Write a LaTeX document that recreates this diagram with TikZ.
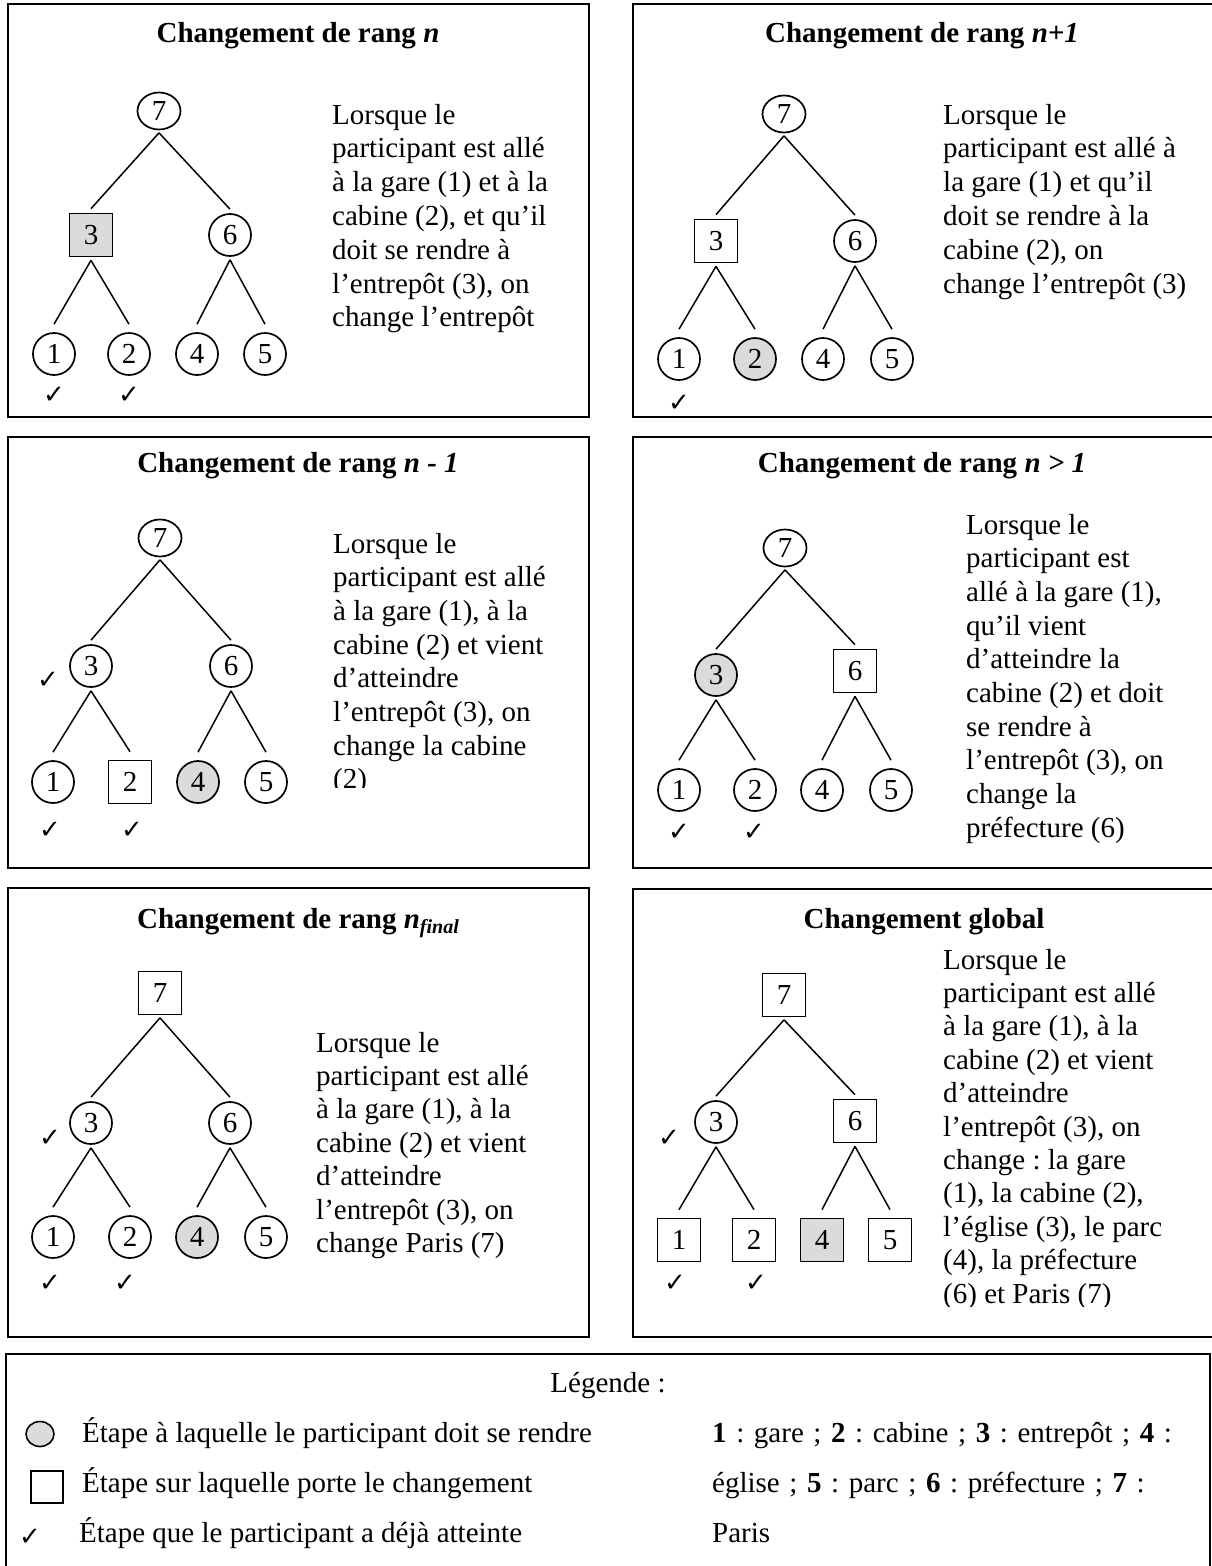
\documentclass[tikz,border=0pt]{standalone}
\usepackage{fontspec}
\setmainfont{Liberation Serif}
\newfontfamily\dejavu{DejaVu Sans}
\usetikzlibrary{shapes.geometric}
\frenchspacing
\newcommand\fs{\fontsize{29}{33.5}\selectfont}
\newcommand\chkfont{\dejavu\fontsize{26}{26}\selectfont}
\newcommand\tlines[5]{%
  \foreach \l [count=\i] in {#5}{\node[txt] (#4\i) at (#1,{#2+(\i-1)*#3}) {\l};}}
\newcommand\treelinks[1]{%
  \draw[link] ([yshift=-2.5pt]#17.south) -- ([yshift=4pt]#13.north);
  \draw[link] ([yshift=-2.5pt]#17.south) -- ([yshift=4pt]#16.north);
  \draw[link] ([yshift=-3pt]#13.south) -- ([yshift=8pt]#11.north);
  \draw[link] ([yshift=-3pt]#13.south) -- ([yshift=8pt]#12.north);
  \draw[link] ([yshift=-3pt]#16.south) -- ([yshift=8pt]#14.north);
  \draw[link] ([yshift=-3pt]#16.south) -- ([yshift=8pt]#15.north);}
\begin{document}
\begin{tikzpicture}[x=1pt,y=-1pt,
  cnode/.style={circle,draw,line width=1.7pt,minimum size=42pt,inner sep=0pt,font=\fs},
  rnode/.style={ellipse,draw,line width=1.7pt,minimum width=43pt,minimum height=37pt,inner sep=0pt,font=\fs},
  snode/.style={rectangle,draw,line width=1.7pt,minimum width=43pt,minimum height=43pt,inner sep=0pt,font=\fs},
  grayfill/.style={fill=gray!28},
  link/.style={line width=1.5pt},
  pbox/.style={draw,line width=1.8pt},
  txt/.style={anchor=base west,inner sep=0pt,font=\fs},
  ttl/.style={anchor=base,inner sep=0pt,font=\fs\bfseries},
  chk/.style={inner sep=0pt,font=\chkfont}]
\useasboundingbox (0,0) rectangle (1212,1566);
\fill[white] (0,0) rectangle (1212,1566);

% ---------- Panel A : rang n ----------
\draw[pbox] (8,4) rectangle (589,417);
\node[ttl] (ta) at (298,42) {Changement de rang \textit{n}};
\node[rnode] (a7) at (159,111) {7};
\node[snode,grayfill] (a3) at (91,235) {3};
\node[cnode] (a6) at (230,235) {6};
\node[cnode] (a1) at (54,354) {1};
\node[cnode] (a2) at (129,354) {2};
\node[cnode] (a4) at (197,354) {4};
\node[cnode] (a5) at (265,354) {5};
\treelinks{a}
\node[chk] (ac1) at (54,395) {✓};
\node[chk] (ac2) at (129,395) {✓};
\tlines{332}{124}{33.8}{al}{Lorsque le, participant est allé, {à la gare (1) et à la}, {cabine (2), et qu’il}, doit se rendre à, {l’entrepôt (3), on}, change l’entrepôt}

% ---------- Panel B : rang n+1 ----------
\draw[pbox] (633,4) rectangle (1215,417);
\node[ttl] (tb) at (922,42) {Changement de rang \textit{n+1}};
\node[rnode] (b7) at (784,114) {7};
\node[snode] (b3) at (716,241) {3};
\node[cnode] (b6) at (855,241) {6};
\node[cnode] (b1) at (679,359) {1};
\node[cnode,grayfill] (b2) at (755,359) {2};
\node[cnode] (b4) at (823,359) {4};
\node[cnode] (b5) at (892,359) {5};
\treelinks{b}
\node[chk] (bc1) at (679,403) {✓};
\tlines{943}{124}{33.8}{bl}{Lorsque le, participant est allé à, la gare (1) et qu’il, doit se rendre à la, {cabine (2), on}, change l’entrepôt (3)}

% ---------- Panel C : rang n - 1 ----------
\draw[pbox] (8,437) rectangle (589,868);
\node[ttl] (tc) at (298,472) {Changement de rang \textit{n - 1}};
\node[rnode] (c7) at (160,538) {7};
\node[cnode] (c3) at (91,666) {3};
\node[cnode] (c6) at (231,666) {6};
\node[cnode] (c1) at (53,782) {1};
\node[snode] (c2) at (130,782) {2};
\node[cnode,grayfill] (c4) at (198,782) {4};
\node[cnode] (c5) at (266,782) {5};
\treelinks{c}
\node[chk] (cc3) at (48,680) {✓};
\node[chk] (cc1) at (50,830) {✓};
\node[chk] (cc2) at (132,830) {✓};
\begin{scope}
\clip (320,500) rectangle (585,787);
\tlines{333}{553}{33.7}{cl}{Lorsque le, participant est allé, {à la gare (1), à la}, cabine (2) et vient, d’atteindre, {l’entrepôt (3), on}, change la cabine, (2)}
\end{scope}

% ---------- Panel D : rang n > 1 ----------
\draw[pbox] (633,437) rectangle (1215,868);
\node[ttl] (td) at (922,472) {Changement de rang \textit{n > 1}};
\node[rnode] (d7) at (785,548) {7};
\node[cnode,grayfill] (d3) at (716,675) {3};
\node[snode] (d6) at (855,671) {6};
\node[cnode] (d1) at (679,790) {1};
\node[cnode] (d2) at (755,790) {2};
\node[cnode] (d4) at (822,790) {4};
\node[cnode] (d5) at (891,790) {5};
\treelinks{d}
\node[chk] (dc1) at (679,832) {✓};
\node[chk] (dc2) at (754,832) {✓};
\tlines{966}{534}{33.7}{dl}{Lorsque le, participant est, {allé à la gare (1),}, qu’il vient, d’atteindre la, cabine (2) et doit, se rendre à, {l’entrepôt (3), on}, change la, préfecture (6)}

% ---------- Panel E : rang n final ----------
\draw[pbox] (8,888) rectangle (589,1337);
\node[ttl] (te) at (298,928) {Changement de rang \textit{n}\raisebox{-5pt}{\fontsize{20}{20}\selectfont\textit{final}}};
\node[snode] (e7) at (160,993) {7};
\node[cnode] (e3) at (91,1123) {3};
\node[cnode] (e6) at (230,1123) {6};
\node[cnode] (e1) at (53,1237) {1};
\node[cnode] (e2) at (130,1237) {2};
\node[cnode,grayfill] (e4) at (197,1237) {4};
\node[cnode] (e5) at (266,1237) {5};
\treelinks{e}
\node[chk] (ec3) at (50,1138) {✓};
\node[chk] (ec1) at (50,1283) {✓};
\node[chk] (ec2) at (125,1283) {✓};
\tlines{316}{1052}{33.4}{el}{Lorsque le, participant est allé, {à la gare (1), à la}, cabine (2) et vient, d’atteindre, {l’entrepôt (3), on}, change Paris (7)}

% ---------- Panel F : global ----------
\draw[pbox] (633,889) rectangle (1215,1337);
\node[ttl] (tf) at (924,928) {Changement global};
\node[snode] (f7) at (784,995) {7};
\node[cnode] (f3) at (716,1122) {3};
\node[snode] (f6) at (855,1121) {6};
\node[snode] (f1) at (679,1240) {1};
\node[snode] (f2) at (754,1240) {2};
\node[snode,grayfill] (f4) at (822,1240) {4};
\node[snode] (f5) at (890,1240) {5};
\treelinks{f}
\node[chk] (fc3) at (669,1138) {✓};
\node[chk] (fc1) at (675,1283) {✓};
\node[chk] (fc2) at (756,1283) {✓};
\begin{scope}
\clip (930,930) rectangle (1210,1306);
\tlines{943}{969}{33.4}{fl}{Lorsque le, participant est allé, {à la gare (1), à la}, cabine (2) et vient, d’atteindre, {l’entrepôt (3), on}, change : la gare, {(1), la cabine (2),}, {l’église (3), le parc}, {(4), la préfecture}, (6) et Paris (7)}
\end{scope}

% ---------- Legend ----------
\draw[pbox] (6,1354) rectangle (1210,1580);
\node[ttl,font=\fs] (lg) at (608,1392) {Légende :};
\node[ellipse,draw,line width=1.6pt,grayfill,minimum width=28pt,minimum height=25pt,inner sep=0pt] (lgc) at (40,1434) {};
\node[rectangle,draw,line width=1.6pt,minimum width=32pt,minimum height=32pt,inner sep=0pt] (lgs) at (47,1487) {};
\node[chk] (lgk) at (30,1537) {✓};
\node[txt] (lt1) at (82,1442) {Étape à laquelle le participant doit se rendre};
\node[txt] (lt2) at (82,1492) {Étape sur laquelle porte le changement};
\node[txt] (lt3) at (79,1542) {Étape que le participant a déjà atteinte};
\begin{scope}[every node/.append style={execute at begin node={\spaceskip=9.6pt plus 1pt}}]
\node[txt] (lr1) at (712,1442) {\textbf{1} : gare ; \textbf{2} : cabine ; \textbf{3} : entrepôt ; \textbf{4} :};
\node[txt] (lr2) at (712,1492) {église ; \textbf{5} : parc ; \textbf{6} : préfecture ; \textbf{7} :};
\node[txt] (lr3) at (712,1542) {Paris};
\end{scope}
\end{tikzpicture}
\end{document}
